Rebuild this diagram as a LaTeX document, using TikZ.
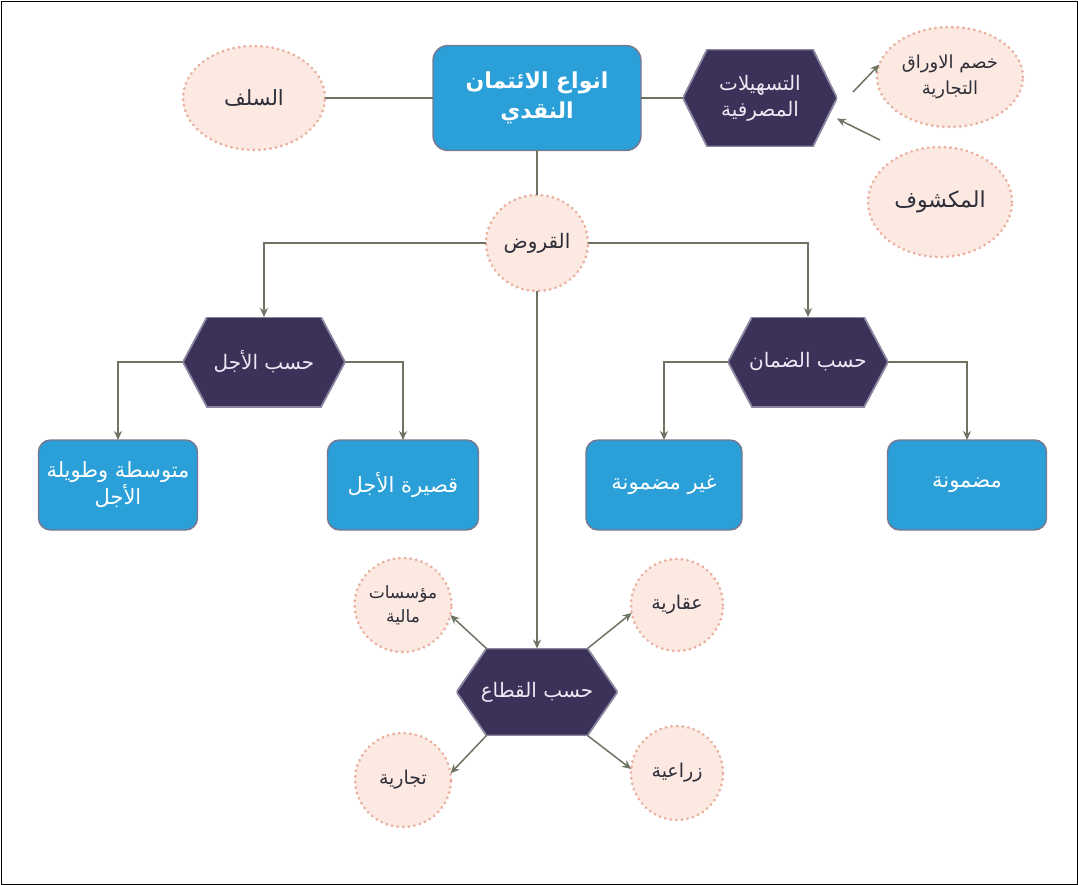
\documentclass[tikz,border=0pt]{standalone}
\usepackage{fontspec}
\newfontfamily\arabicfont[Script=Arabic]{DejaVu Sans}
\TeXXeTstate=1
\usetikzlibrary{arrows.meta,calc,shapes.geometric}
\definecolor{boxblue}{HTML}{2A9FD8}
\definecolor{boxedge}{HTML}{7A7890}
\definecolor{hexfill}{HTML}{3C3259}
\definecolor{hexedge}{HTML}{8A86A0}
\definecolor{hextext}{HTML}{ECE8F4}
\definecolor{ellfill}{HTML}{FCE9E2}
\definecolor{elledge}{HTML}{E9AE9C}
\definecolor{elltext}{HTML}{2E2E38}
\definecolor{conncol}{HTML}{6E7462}
\newcommand{\artxt}[1]{\beginR #1\endR}
\begin{document}
\begin{tikzpicture}[x=1pt,y=-1pt,
  every node/.style={inner sep=0pt,outer sep=0pt,align=center},
  bluebox/.style={rectangle,rounded corners=12pt,fill=boxblue,draw=boxedge,line width=1.4pt,
    text=white,font=\arabicfont\fontsize{21}{27}\selectfont},
  ell/.style={ellipse,fill=ellfill,draw=elledge,line width=3pt,dash pattern=on 0.1pt off 5.5pt,line cap=round,
    text=elltext,font=\arabicfont\fontsize{19}{25}\selectfont},
  hexbox/.style n args={3}{rectangle,minimum width=#1,minimum height=#2,text=hextext,
    font=\arabicfont\fontsize{20}{27}\selectfont,
    path picture={\filldraw[fill=hexfill,draw=hexedge,line width=1.8pt]
      (path picture bounding box.west) -- ([xshift=#3]path picture bounding box.north west)
      -- ([xshift=-#3]path picture bounding box.north east) -- (path picture bounding box.east)
      -- ([xshift=-#3]path picture bounding box.south east) -- ([xshift=#3]path picture bounding box.south west)
      -- cycle;}},
  conn/.style={draw=conncol,line width=1.5pt},
  arr/.style={conn,-{Stealth[length=9pt,width=8pt]}}
]
\useasboundingbox (0,0) rectangle (1078,885);
\fill[white] (0,0) rectangle (1078,885);
\draw[black,line width=0.8pt] (1,1) rectangle (1077,884);

% nodes
\node[bluebox,rounded corners=15pt,minimum width=208pt,minimum height=105pt,
  font=\arabicfont\bfseries\fontsize{22}{30}\selectfont] (main) at (537,98)
  {\artxt{انواع الائتمان}\\\artxt{النقدي}};
\node[ell,minimum width=142pt,minimum height=104pt,font=\arabicfont\fontsize{21}{26}\selectfont] (salaf) at (254,98) {\artxt{السلف}};
\node[hexbox={154pt}{97pt}{24pt},font=\arabicfont\fontsize{20}{26}\selectfont] (tash) at (760,98) {\artxt{التسهيلات}\\\artxt{المصرفية}};
\node[ell,minimum width=146pt,minimum height=100pt,font=\arabicfont\fontsize{18}{26}\selectfont] (khasm) at (950,77) {\artxt{خصم الاوراق}\\\artxt{التجارية}};
\node[ell,minimum width=144pt,minimum height=110pt,font=\arabicfont\fontsize{22}{26}\selectfont] (mak) at (940,202) {\artxt{المكشوف}};
\node[ell,minimum width=102pt,minimum height=96pt,font=\arabicfont\fontsize{20}{26}\selectfont] (qurud) at (537,243) {\artxt{القروض}};

\node[hexbox={162pt}{90pt}{24pt}] (ajal) at (264,362) {\artxt{حسب الأجل}};
\node[hexbox={160pt}{90pt}{24pt}] (daman) at (808,362) {\artxt{حسب الضمان}};

\node[bluebox,minimum width=159pt,minimum height=90pt] (mid) at (118,485) {\artxt{متوسطة وطويلة}\\\artxt{الأجل}};
\node[bluebox,minimum width=151pt,minimum height=90pt] (short) at (403,485) {\artxt{قصيرة الأجل}};
\node[bluebox,minimum width=156pt,minimum height=90pt] (ghayr) at (664,485) {\artxt{غير مضمونة}};
\node[bluebox,minimum width=159pt,minimum height=90pt] (madm) at (967,485) {\artxt{مضمونة}};

\node[hexbox={161pt}{87pt}{30pt}] (qitaa) at (537,692) {\artxt{حسب القطاع}};
\node[ell,minimum width=96pt,minimum height=94pt,font=\arabicfont\fontsize{17}{24}\selectfont] (mus) at (403,605) {\artxt{مؤسسات}\\\artxt{مالية}};
\node[ell,minimum width=92pt,minimum height=92pt] (aqar) at (677,605) {\artxt{عقارية}};
\node[ell,minimum width=96pt,minimum height=94pt] (tijar) at (403,780) {\artxt{تجارية}};
\node[ell,minimum width=92pt,minimum height=94pt] (ziraa) at (677,773) {\artxt{زراعية}};

% free-end coordinates
\coordinate (t1s) at (853,92);
\coordinate (t2s) at (880,140);
\coordinate (qul) at ($(qitaa.north west)+(30,0)$);
\coordinate (qur) at ($(qitaa.north east)+(-30,0)$);
\coordinate (qll) at ($(qitaa.south west)+(30,0)$);
\coordinate (qlr) at ($(qitaa.south east)+(-30,0)$);

% connectors
\draw[conn] (salaf.east) -- (main.west);
\draw[conn] (main.east) -- (tash.west);
\draw[arr] (t1s) -- (khasm.170);
\draw[arr] (t2s) -- (tash.-15);
\draw[conn] (main.south) -- (qurud.north);
\draw[arr] (qurud.west) -| (ajal.north);
\draw[arr] (qurud.east) -| (daman.north);
\draw[arr] (qurud.south) -- (qitaa.north);
\draw[arr] (ajal.west) -| (mid.north);
\draw[arr] (ajal.east) -| (short.north);
\draw[arr] (daman.west) -| (ghayr.north);
\draw[arr] (daman.east) -| (madm.north);
\draw[arr] (qul) -- (mus.-12);
\draw[arr] (qur) -- (aqar.190);
\draw[arr] (qll) -- (tijar.8);
\draw[arr] (qlr) -- (ziraa.175);
\end{tikzpicture}
\end{document}
